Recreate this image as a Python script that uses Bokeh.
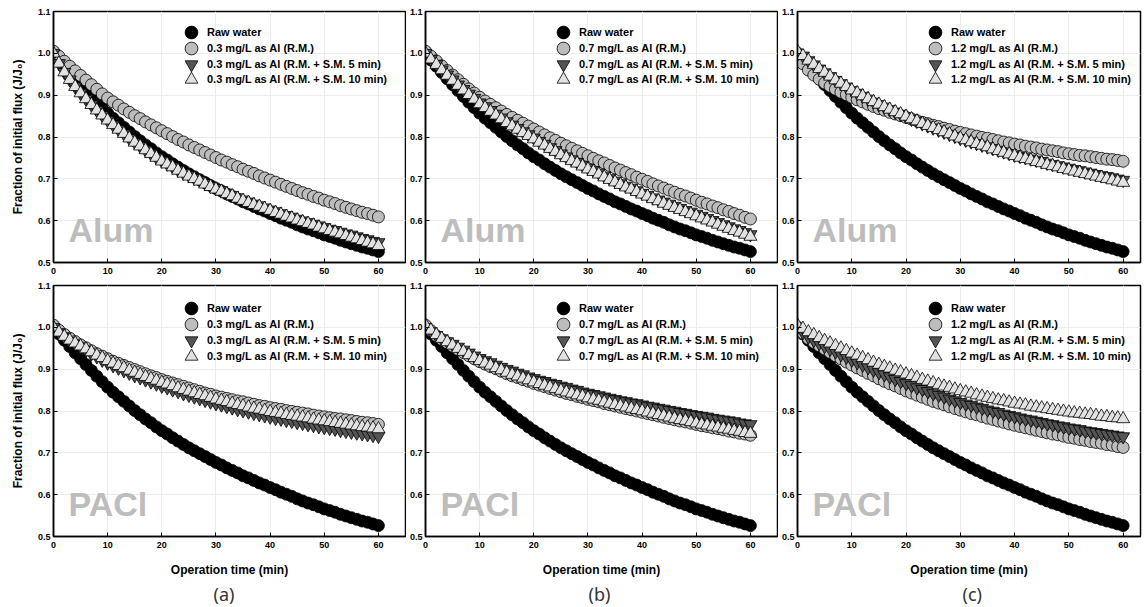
from bokeh.plotting import figure
from bokeh.layouts import column, row
from bokeh.models import (Range1d, FixedTicker, Label, Legend, LegendItem,
                          PrintfTickFormatter, Title)
from bokeh.embed import file_html
from bokeh.resources import INLINE

# ---------------- data ----------------
time_min = list(range(0, 61))

x_ticks = [0, 10, 20, 30, 40, 50, 60]
y_ticks = [0.5, 0.6, 0.7, 0.8, 0.9, 1.0, 1.1]
doses = ["0.3", "0.7", "1.2"]
coagulants = ["Alum", "PACl"]
panel_tags = ["(a)", "(b)", "(c)"]

raw_water = [1.000, 0.984, 0.969, 0.954, 0.939, 0.925, 0.911, 0.897, 0.883, 0.870, 0.857,
             0.845, 0.834, 0.823, 0.812, 0.801, 0.791, 0.781, 0.772, 0.762, 0.753,
             0.745, 0.736, 0.728, 0.720, 0.712, 0.705, 0.698, 0.691, 0.684, 0.677,
             0.671, 0.664, 0.658, 0.652, 0.645, 0.640, 0.634, 0.628, 0.623, 0.617,
             0.612, 0.606, 0.601, 0.596, 0.590, 0.585, 0.580, 0.576, 0.571, 0.566,
             0.562, 0.558, 0.553, 0.549, 0.545, 0.541, 0.537, 0.534, 0.530, 0.526]

alum_03_rm = [1.005, 0.993, 0.981, 0.969, 0.958, 0.947, 0.936, 0.925, 0.914, 0.903, 0.893,
              0.884, 0.876, 0.867, 0.859, 0.851, 0.844, 0.836, 0.829, 0.822, 0.815,
              0.808, 0.801, 0.794, 0.788, 0.781, 0.775, 0.769, 0.763, 0.757, 0.751,
              0.745, 0.740, 0.734, 0.729, 0.723, 0.718, 0.713, 0.707, 0.702, 0.697,
              0.692, 0.687, 0.682, 0.677, 0.672, 0.667, 0.663, 0.658, 0.654, 0.649,
              0.645, 0.641, 0.636, 0.632, 0.628, 0.624, 0.620, 0.617, 0.613, 0.609]
alum_03_sm5 = [1.000, 0.976, 0.955, 0.937, 0.920, 0.905, 0.891, 0.877, 0.864, 0.852, 0.840,
               0.829, 0.818, 0.808, 0.797, 0.787, 0.778, 0.769, 0.760, 0.751, 0.743,
               0.736, 0.729, 0.721, 0.714, 0.708, 0.702, 0.696, 0.689, 0.683, 0.677,
               0.672, 0.666, 0.661, 0.655, 0.650, 0.645, 0.640, 0.636, 0.631, 0.626,
               0.622, 0.617, 0.613, 0.609, 0.604, 0.600, 0.596, 0.592, 0.588, 0.584,
               0.580, 0.577, 0.573, 0.569, 0.566, 0.562, 0.558, 0.555, 0.551, 0.548]
alum_03_sm10 = [1.000, 0.976, 0.955, 0.937, 0.920, 0.905, 0.891, 0.877, 0.864, 0.852, 0.840,
                0.829, 0.818, 0.808, 0.797, 0.787, 0.778, 0.769, 0.760, 0.751, 0.742,
                0.735, 0.728, 0.720, 0.713, 0.706, 0.700, 0.694, 0.687, 0.681, 0.675,
                0.670, 0.664, 0.659, 0.653, 0.648, 0.643, 0.638, 0.634, 0.629, 0.624,
                0.619, 0.615, 0.610, 0.606, 0.601, 0.597, 0.593, 0.589, 0.584, 0.580,
                0.576, 0.572, 0.568, 0.564, 0.560, 0.556, 0.552, 0.548, 0.544, 0.540]

alum_07_rm = [1.005, 0.993, 0.982, 0.970, 0.959, 0.948, 0.937, 0.926, 0.915, 0.905, 0.895,
              0.886, 0.878, 0.870, 0.862, 0.854, 0.847, 0.840, 0.833, 0.826, 0.819,
              0.812, 0.805, 0.798, 0.792, 0.785, 0.779, 0.773, 0.767, 0.761, 0.755,
              0.749, 0.743, 0.738, 0.732, 0.726, 0.721, 0.715, 0.710, 0.704, 0.699,
              0.694, 0.688, 0.683, 0.678, 0.673, 0.668, 0.663, 0.659, 0.654, 0.649,
              0.644, 0.640, 0.635, 0.631, 0.626, 0.622, 0.617, 0.613, 0.608, 0.604]
alum_07_sm5 = [1.000, 0.986, 0.974, 0.961, 0.949, 0.937, 0.925, 0.914, 0.903, 0.893, 0.882,
               0.873, 0.864, 0.855, 0.846, 0.837, 0.829, 0.821, 0.813, 0.806, 0.798,
               0.790, 0.783, 0.775, 0.768, 0.760, 0.753, 0.746, 0.740, 0.733, 0.726,
               0.720, 0.714, 0.707, 0.701, 0.695, 0.689, 0.683, 0.678, 0.672, 0.666,
               0.661, 0.655, 0.650, 0.645, 0.640, 0.635, 0.630, 0.625, 0.621, 0.616,
               0.611, 0.606, 0.601, 0.596, 0.591, 0.586, 0.581, 0.577, 0.572, 0.567]
alum_07_sm10 = [1.000, 0.986, 0.973, 0.960, 0.947, 0.935, 0.923, 0.912, 0.901, 0.890, 0.879,
                0.870, 0.861, 0.852, 0.843, 0.834, 0.826, 0.818, 0.810, 0.803, 0.795,
                0.787, 0.780, 0.772, 0.765, 0.757, 0.750, 0.743, 0.737, 0.730, 0.723,
                0.717, 0.711, 0.704, 0.698, 0.692, 0.686, 0.680, 0.675, 0.669, 0.663,
                0.658, 0.652, 0.647, 0.641, 0.636, 0.631, 0.626, 0.621, 0.616, 0.611,
                0.606, 0.601, 0.596, 0.591, 0.586, 0.581, 0.576, 0.572, 0.567, 0.562]

alum_12_rm = [1.000, 0.975, 0.960, 0.948, 0.938, 0.929, 0.921, 0.914, 0.907, 0.901, 0.895,
              0.889, 0.884, 0.878, 0.873, 0.868, 0.864, 0.859, 0.855, 0.851, 0.847,
              0.843, 0.839, 0.835, 0.832, 0.828, 0.825, 0.821, 0.818, 0.814, 0.811,
              0.808, 0.805, 0.802, 0.799, 0.797, 0.794, 0.791, 0.788, 0.786, 0.783,
              0.781, 0.778, 0.776, 0.774, 0.771, 0.769, 0.767, 0.765, 0.762, 0.760,
              0.758, 0.756, 0.755, 0.753, 0.751, 0.749, 0.747, 0.746, 0.744, 0.742]
alum_12_sm5 = [1.000, 0.994, 0.983, 0.973, 0.963, 0.954, 0.945, 0.936, 0.928, 0.920, 0.912,
               0.905, 0.898, 0.891, 0.884, 0.878, 0.872, 0.866, 0.860, 0.855, 0.849,
               0.843, 0.838, 0.832, 0.827, 0.822, 0.817, 0.812, 0.807, 0.802, 0.797,
               0.793, 0.789, 0.785, 0.781, 0.777, 0.773, 0.769, 0.765, 0.761, 0.757,
               0.754, 0.751, 0.748, 0.745, 0.742, 0.738, 0.735, 0.732, 0.729, 0.726,
               0.723, 0.720, 0.717, 0.714, 0.711, 0.708, 0.706, 0.703, 0.700, 0.697]
alum_12_sm10 = [1.005, 0.994, 0.983, 0.973, 0.963, 0.954, 0.945, 0.936, 0.928, 0.920, 0.912,
                0.905, 0.898, 0.891, 0.884, 0.878, 0.872, 0.866, 0.860, 0.855, 0.849,
                0.843, 0.838, 0.832, 0.827, 0.822, 0.817, 0.812, 0.807, 0.802, 0.797,
                0.793, 0.788, 0.784, 0.780, 0.776, 0.771, 0.767, 0.763, 0.759, 0.755,
                0.751, 0.748, 0.745, 0.741, 0.738, 0.734, 0.731, 0.728, 0.724, 0.721,
                0.718, 0.715, 0.712, 0.709, 0.706, 0.703, 0.700, 0.697, 0.694, 0.691]

pacl_03_rm = [1.005, 0.993, 0.983, 0.974, 0.966, 0.958, 0.951, 0.944, 0.937, 0.931, 0.925,
              0.919, 0.914, 0.909, 0.904, 0.899, 0.894, 0.889, 0.884, 0.880, 0.875,
              0.871, 0.867, 0.863, 0.859, 0.855, 0.851, 0.847, 0.843, 0.840, 0.836,
              0.833, 0.830, 0.827, 0.824, 0.822, 0.819, 0.816, 0.813, 0.811, 0.808,
              0.806, 0.804, 0.801, 0.799, 0.797, 0.795, 0.793, 0.790, 0.788, 0.786,
              0.784, 0.782, 0.781, 0.779, 0.777, 0.775, 0.773, 0.772, 0.770, 0.768]
pacl_03_sm5 = [1.000, 0.987, 0.976, 0.967, 0.960, 0.953, 0.945, 0.937, 0.930, 0.922, 0.915,
               0.909, 0.903, 0.897, 0.891, 0.885, 0.880, 0.875, 0.870, 0.865, 0.860,
               0.856, 0.851, 0.847, 0.842, 0.838, 0.834, 0.830, 0.826, 0.822, 0.818,
               0.815, 0.811, 0.808, 0.804, 0.801, 0.798, 0.795, 0.792, 0.789, 0.786,
               0.783, 0.781, 0.778, 0.776, 0.773, 0.771, 0.768, 0.766, 0.763, 0.761,
               0.759, 0.757, 0.754, 0.752, 0.750, 0.748, 0.746, 0.744, 0.742, 0.740]
pacl_03_sm10 = [1.000, 0.988, 0.978, 0.969, 0.962, 0.955, 0.948, 0.941, 0.933, 0.927, 0.920,
                0.914, 0.908, 0.903, 0.897, 0.892, 0.887, 0.882, 0.877, 0.873, 0.868,
                0.864, 0.860, 0.855, 0.851, 0.847, 0.843, 0.839, 0.836, 0.832, 0.828,
                0.825, 0.822, 0.818, 0.815, 0.812, 0.809, 0.806, 0.804, 0.801, 0.798,
                0.796, 0.794, 0.791, 0.789, 0.787, 0.785, 0.783, 0.780, 0.778, 0.776,
                0.774, 0.772, 0.770, 0.768, 0.766, 0.764, 0.762, 0.761, 0.759, 0.757]

pacl_07_rm = [1.005, 0.992, 0.980, 0.971, 0.963, 0.955, 0.947, 0.940, 0.932, 0.925, 0.918,
              0.912, 0.906, 0.901, 0.895, 0.889, 0.884, 0.880, 0.875, 0.871, 0.866,
              0.862, 0.858, 0.854, 0.850, 0.846, 0.842, 0.839, 0.835, 0.832, 0.828,
              0.825, 0.822, 0.818, 0.815, 0.812, 0.809, 0.806, 0.803, 0.800, 0.797,
              0.794, 0.791, 0.788, 0.785, 0.782, 0.779, 0.776, 0.774, 0.771, 0.768,
              0.765, 0.763, 0.760, 0.758, 0.755, 0.752, 0.750, 0.747, 0.745, 0.742]
pacl_07_sm5 = [1.000, 0.990, 0.981, 0.973, 0.966, 0.960, 0.953, 0.946, 0.939, 0.932, 0.926,
               0.921, 0.916, 0.910, 0.905, 0.900, 0.896, 0.891, 0.887, 0.882, 0.878,
               0.874, 0.871, 0.867, 0.864, 0.860, 0.857, 0.853, 0.850, 0.846, 0.843,
               0.840, 0.837, 0.834, 0.831, 0.828, 0.825, 0.823, 0.820, 0.818, 0.815,
               0.812, 0.810, 0.807, 0.805, 0.802, 0.800, 0.797, 0.795, 0.792, 0.790,
               0.788, 0.786, 0.783, 0.781, 0.779, 0.777, 0.775, 0.772, 0.770, 0.768]
pacl_07_sm10 = [1.005, 0.993, 0.982, 0.973, 0.965, 0.957, 0.949, 0.942, 0.934, 0.927, 0.920,
                0.914, 0.909, 0.903, 0.898, 0.892, 0.887, 0.883, 0.878, 0.874, 0.869,
                0.865, 0.861, 0.857, 0.853, 0.849, 0.845, 0.842, 0.838, 0.835, 0.831,
                0.828, 0.825, 0.821, 0.818, 0.815, 0.812, 0.809, 0.806, 0.803, 0.800,
                0.797, 0.794, 0.791, 0.788, 0.785, 0.782, 0.779, 0.777, 0.774, 0.771,
                0.768, 0.766, 0.763, 0.761, 0.758, 0.756, 0.753, 0.751, 0.748, 0.746]

pacl_12_rm = [1.000, 0.986, 0.973, 0.964, 0.956, 0.948, 0.940, 0.932, 0.925, 0.917, 0.910,
              0.903, 0.897, 0.890, 0.884, 0.877, 0.871, 0.865, 0.860, 0.854, 0.848,
              0.843, 0.838, 0.833, 0.828, 0.823, 0.819, 0.815, 0.810, 0.806, 0.802,
              0.798, 0.794, 0.791, 0.787, 0.783, 0.780, 0.776, 0.773, 0.769, 0.766,
              0.763, 0.760, 0.757, 0.754, 0.751, 0.748, 0.745, 0.743, 0.740, 0.737,
              0.735, 0.732, 0.730, 0.727, 0.725, 0.723, 0.720, 0.718, 0.715, 0.713]
pacl_12_sm5 = [1.000, 0.988, 0.977, 0.969, 0.962, 0.955, 0.948, 0.942, 0.935, 0.929, 0.922,
               0.916, 0.910, 0.904, 0.898, 0.892, 0.887, 0.882, 0.876, 0.871, 0.866,
               0.861, 0.856, 0.852, 0.847, 0.842, 0.838, 0.834, 0.829, 0.825, 0.821,
               0.817, 0.814, 0.810, 0.807, 0.803, 0.800, 0.797, 0.793, 0.790, 0.787,
               0.784, 0.781, 0.779, 0.776, 0.773, 0.770, 0.768, 0.765, 0.763, 0.760,
               0.758, 0.756, 0.753, 0.751, 0.749, 0.747, 0.745, 0.743, 0.741, 0.739]
pacl_12_sm10 = [1.005, 0.997, 0.989, 0.982, 0.975, 0.968, 0.962, 0.956, 0.950, 0.944, 0.938,
                0.933, 0.927, 0.922, 0.916, 0.911, 0.906, 0.902, 0.897, 0.893, 0.888,
                0.884, 0.880, 0.875, 0.871, 0.867, 0.863, 0.859, 0.856, 0.852, 0.848,
                0.845, 0.842, 0.838, 0.835, 0.832, 0.829, 0.826, 0.824, 0.821, 0.818,
                0.816, 0.814, 0.811, 0.809, 0.807, 0.805, 0.803, 0.801, 0.799, 0.797,
                0.795, 0.794, 0.792, 0.791, 0.789, 0.787, 0.786, 0.784, 0.783, 0.781]

series_by_panel = [
    [(alum_03_rm, alum_03_sm5, alum_03_sm10),
     (alum_07_rm, alum_07_sm5, alum_07_sm10),
     (alum_12_rm, alum_12_sm5, alum_12_sm10)],
    [(pacl_03_rm, pacl_03_sm5, pacl_03_sm10),
     (pacl_07_rm, pacl_07_sm5, pacl_07_sm10),
     (pacl_12_rm, pacl_12_sm5, pacl_12_sm10)],
]

# ---------------- styling ----------------
FONT = "Liberation Sans"
FRAME_H = 251
TAG_OFFSET = [160, 163, 165]


def make_panel(r, c):
    left = 53 if c == 0 else 19
    frame_w = 352 if c < 2 else 343
    right = 1 if c < 2 else 4
    if r == 0:
        top, bottom = 11, 18
    else:
        top, bottom = 5, 71
    x_end = 65 if c < 2 else 63.2
    p = figure(width=left + frame_w + right, height=top + FRAME_H + bottom,
               x_range=Range1d(0, x_end), y_range=Range1d(0.5, 1.1),
               output_backend="svg", toolbar_location=None, title=None,
               min_border_left=left, min_border_right=right,
               min_border_top=top, min_border_bottom=bottom)
    p.background_fill_color = "white"
    p.border_fill_color = "white"
    p.outline_line_color = "black"
    p.outline_line_width = 1.5
    p.outline_line_alpha = 1.0
    p.grid.grid_line_color = "#ececec"
    p.grid.grid_line_width = 1
    p.xaxis.ticker = FixedTicker(ticks=x_ticks)
    p.yaxis.ticker = FixedTicker(ticks=y_ticks)
    p.yaxis.formatter = PrintfTickFormatter(format="%.1f")
    for ax in (p.xaxis[0], p.yaxis[0]):
        ax.axis_line_color = "black"
        ax.axis_line_width = 1.5
        ax.major_tick_in = 4
        ax.major_tick_out = 0
        ax.major_tick_line_color = "black"
        ax.major_tick_line_width = 1
        ax.minor_tick_line_color = None
        ax.major_label_text_font = FONT
        ax.major_label_text_font_style = "bold"
        ax.major_label_text_font_size = "9px"
        ax.major_label_text_color = "black"
        ax.axis_label_text_font = FONT
        ax.axis_label_text_font_style = "bold"
        ax.axis_label_text_font_size = "12px"
        ax.axis_label_text_color = "black"
    p.xaxis.major_label_standoff = 5
    p.yaxis.major_label_standoff = 3
    if c == 0:
        p.yaxis.axis_label = "Fraction of initial flux (J/J\u2080)"
        p.yaxis.axis_label_standoff = 10
    if r == 1:
        p.xaxis.axis_label = "Operation time (min)"
        p.xaxis.axis_label_standoff = 12

    rm, sm5, sm10 = series_by_panel[r][c]
    dose = doses[c]
    lw = 0.8
    r0 = p.scatter(time_min, raw_water, marker="circle", size=12,
                   fill_color="black", line_color="black", line_width=lw)
    r1 = p.scatter(time_min, rm, marker="circle", size=12,
                   fill_color="#bdbdbd", line_color="black", line_width=lw)
    r2 = p.scatter(time_min, sm5, marker="inverted_triangle", size=13,
                   fill_color="#555555", line_color="black", line_width=lw)
    r3 = p.scatter(time_min, sm10, marker="triangle", size=13,
                   fill_color="#e2e2e2", line_color="black", line_width=lw)

    entries = [
        ("Raw water", r0),
        (f"{dose} mg/L as Al (R.M.)", r1),
        (f"{dose} mg/L as Al (R.M. + S.M. 5 min)", r2),
        (f"{dose} mg/L as Al (R.M. + S.M. 10 min)", r3),
    ]
    first_center = 21.3 if r == 0 else 23.3
    pitch = 15.7 if r == 0 else 15.9
    for i, (lab, rend) in enumerate(entries):
        centre = first_center + i * pitch
        leg = Legend(items=[LegendItem(label=lab, renderers=[rend])],
                     glyph_width=32, glyph_height=32, spacing=0,
                     label_standoff=0, padding=0, margin=0,
                     border_line_color=None, background_fill_alpha=0,
                     label_text_font=FONT, label_text_font_style="bold",
                     label_text_font_size="11px", label_text_color="black",
                     label_height=16,
                     location=(138 - 16, FRAME_H - (centre - 16) - 32))
        p.add_layout(leg)

    p.add_layout(Label(x=15, y=33, x_units="screen", y_units="screen",
                       text=coagulants[r], text_font=FONT, text_font_style="bold",
                       text_font_size="34px", text_color="#bdbdbd",
                       text_baseline="middle", text_align="left"))
    if r == 1:
        p.add_layout(Title(text=panel_tags[c], align="left", offset=TAG_OFFSET[c],
                           standoff=0, text_font="Noto Sans", text_font_style="normal",
                           text_font_size="18px", text_color="#333333"), "below")
    return p


rows = []
for r in range(2):
    rows.append(row(*[make_panel(r, c) for c in range(3)], spacing=0))
layout = column(*rows, spacing=0)

with open("out.html", "w") as f:
    f.write(file_html(layout, INLINE))
